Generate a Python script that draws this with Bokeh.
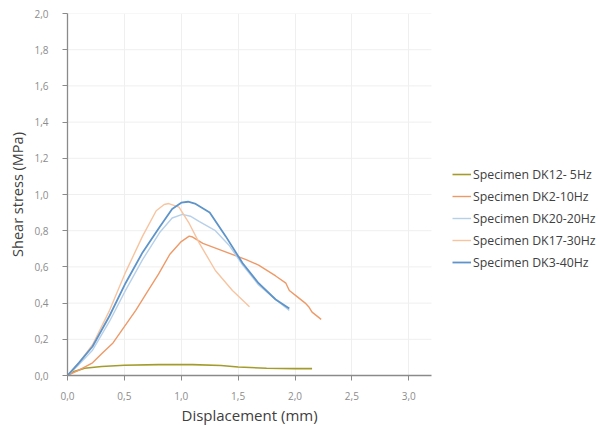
from bokeh.plotting import figure
from bokeh.models import Range1d, FixedTicker, CustomJSTickFormatter, Legend, LegendItem, Title
from bokeh.embed import file_html
from bokeh.resources import INLINE

# ---- data (displacement mm, shear stress MPa) ----
dk12_x = [0.0, 0.05, 0.15, 0.3, 0.5, 0.8, 1.1, 1.35, 1.5, 1.75, 2.0, 2.15]
dk12_y = [0.0, 0.02, 0.04, 0.05, 0.057, 0.06, 0.06, 0.055, 0.047, 0.04, 0.038, 0.038]

dk2_x = [0.0, 0.1, 0.22, 0.3, 0.4, 0.5, 0.6, 0.7, 0.8, 0.9, 1.0, 1.07, 1.1, 1.19, 1.36, 1.57, 1.68, 1.83, 1.92, 1.95, 2.01, 2.09, 2.12, 2.15, 2.23]
dk2_y = [0.0, 0.03, 0.07, 0.12, 0.18, 0.27, 0.36, 0.46, 0.56, 0.67, 0.74, 0.77, 0.765, 0.73, 0.69, 0.64, 0.61, 0.55, 0.51, 0.47, 0.44, 0.4, 0.38, 0.35, 0.31]

dk20_x = [0.0, 0.1, 0.22, 0.37, 0.51, 0.66, 0.81, 0.92, 1.01, 1.08, 1.16, 1.3, 1.42, 1.54, 1.68, 1.83, 1.95]
dk20_y = [0.0, 0.06, 0.14, 0.3, 0.47, 0.64, 0.79, 0.87, 0.89, 0.88, 0.85, 0.8, 0.72, 0.61, 0.5, 0.42, 0.36]

dk17_x = [0.0, 0.1, 0.22, 0.37, 0.51, 0.66, 0.78, 0.85, 0.89, 0.98, 1.07, 1.16, 1.3, 1.45, 1.6]
dk17_y = [0.0, 0.07, 0.17, 0.36, 0.57, 0.77, 0.91, 0.945, 0.95, 0.93, 0.84, 0.73, 0.58, 0.47, 0.38]

dk3_x = [0.0, 0.1, 0.22, 0.37, 0.51, 0.66, 0.81, 0.92, 1.0, 1.06, 1.12, 1.25, 1.39, 1.54, 1.68, 1.83, 1.95]
dk3_y = [0.0, 0.07, 0.16, 0.33, 0.51, 0.68, 0.82, 0.92, 0.955, 0.96, 0.95, 0.9, 0.77, 0.62, 0.51, 0.42, 0.37]

labels = ["Specimen DK12- 5Hz", "Specimen DK2-10Hz", "Specimen DK20-20Hz",
          "Specimen DK17-30Hz", "Specimen DK3-40Hz"]
colors = ["#a39c2c", "#ee9a68", "#b7d0ea", "#f7c4a0", "#5e94c9"]
widths = [1.6, 1.4, 1.4, 1.4, 1.8]

x_ticks = [0.0, 0.5, 1.0, 1.5, 2.0, 2.5, 3.0]
y_ticks = [0.0, 0.2, 0.4, 0.6, 0.8, 1.0, 1.2, 1.4, 1.6, 1.8, 2.0]
x_axis_max = 3.2
y_axis_max = 2.0
x_title = "Displacement (mm)"
y_title = "Shear stress (MPa)"

# layout: plotting frame spans the legend area too; axis limited by bounds
W, H = 598, 426
B_LEFT, B_RIGHT, B_TOP, B_BOTTOM = 67, 2, 13, 51
axis_px = 364  # pixel length of the visible x axis
frame_w = W - B_LEFT - B_RIGHT
x_end = x_axis_max * frame_w / axis_px

p = figure(width=W, height=H, output_backend="svg", toolbar_location=None,
           x_range=Range1d(0, x_end), y_range=Range1d(0, y_axis_max),
           min_border_left=B_LEFT, min_border_right=B_RIGHT, min_border_top=B_TOP,
           min_border_bottom=B_BOTTOM)
p.outline_line_color = None
p.background_fill_color = "white"

fmt = CustomJSTickFormatter(code="return tick.toFixed(1).replace('.', ',');")
for ax, ticks in ((p.xaxis[0], x_ticks), (p.yaxis[0], y_ticks)):
    ax.ticker = FixedTicker(ticks=ticks)
    ax.formatter = fmt
    ax.minor_tick_line_color = None
    ax.axis_line_color = "#8a8a8a"
    ax.axis_line_width = 1.3
    ax.major_tick_line_color = "#8a8a8a"
    ax.major_tick_out = 5
    ax.major_tick_in = 0
    ax.major_label_text_color = "#8c8c8c"
    ax.major_label_text_font = "Open Sans"
    ax.major_label_text_font_size = "10px"
    ax.axis_label_text_color = "#404040"
    ax.axis_label_text_font = "Open Sans"
    ax.axis_label_text_font_size = "14.5px"
    ax.axis_label_text_font_style = "normal"

p.xaxis.bounds = (0, x_axis_max)
p.yaxis.bounds = (0, y_axis_max)
p.yaxis.axis_label = y_title
p.xaxis.major_label_standoff = 11
p.yaxis.major_label_standoff = 14
p.yaxis.axis_label_standoff = 4

# x axis title centred under the visible axis (not the whole frame)
title_w_est = 136  # approx rendered width of the title text
xt = Title(text=x_title, align="left", offset=axis_px / 2 - title_w_est / 2,
           text_font="Open Sans", text_font_size="15px", text_font_style="normal",
           text_color="#404040", standoff=0)
p.add_layout(xt, "below")

p.xgrid.ticker = FixedTicker(ticks=x_ticks[1:])
p.xgrid.grid_line_color = "#efefef"
p.ygrid.visible = False
# horizontal gridlines limited to the visible axis extent
gy = y_ticks[1:]
p.segment(x0=[0] * len(gy), x1=[x_axis_max] * len(gy), y0=gy, y1=gy,
          line_color="#efefef", line_width=1, level="underlay")

series = [(dk12_x, dk12_y), (dk2_x, dk2_y), (dk20_x, dk20_y), (dk17_x, dk17_y), (dk3_x, dk3_y)]
items = []
for (xs, ys), lab, col, w in zip(series, labels, colors, widths):
    r = p.line(xs, ys, line_color=col, line_width=w)
    items.append(LegendItem(label=lab, renderers=[r]))

legend = Legend(items=items, location=(385, 103), orientation="vertical",
                border_line_color=None, background_fill_alpha=0,
                padding=0, margin=0, spacing=2, glyph_width=19, glyph_height=20,
                label_standoff=2, label_height=20,
                label_text_font="Open Sans", label_text_font_size="12.3px",
                label_text_color="#404040")
p.add_layout(legend, "center")

open("out.html", "w").write(file_html(p, INLINE))
